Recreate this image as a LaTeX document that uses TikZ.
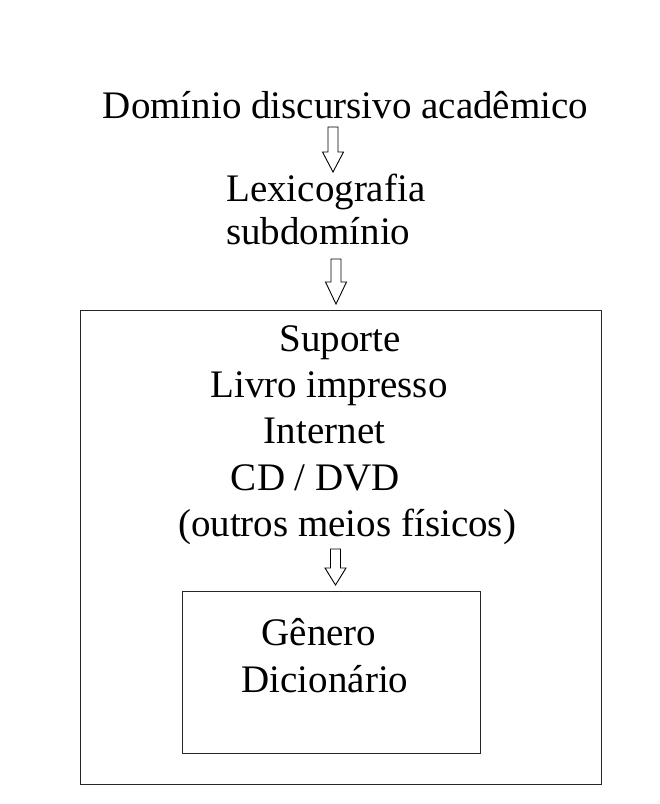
\documentclass[tikz,border=0pt]{standalone}
\usepackage{fontspec}
\setmainfont{Liberation Serif}
\usetikzlibrary{calc}
\newcommand\myblockarrow[3]{%
  \draw[barrow] let \p1=(#1), \p2=(#2) in
    (\x1-5pt,\y1) -- (\x1+5pt,\y1) -- (\x1+5pt,\y2+#3) -- (\x1+10.5pt,\y2+#3)
    -- (\x2,\y2) -- (\x1-10.5pt,\y2+#3) -- (\x1-5pt,\y2+#3) -- cycle;}
\begin{document}
\begin{tikzpicture}[x=1pt,y=-1pt,
  txt/.style={anchor=base, inner sep=0pt, font=\fontsize{39}{46}\selectfont},
  frame/.style={draw=black!85, line width=1.4pt, inner sep=0pt, anchor=north west},
  barrow/.style={draw=black, line width=0.9pt, fill=white, line join=miter}]
\useasboundingbox[fill=white] (0,0) rectangle (660,804);
% boxes
\node[frame, minimum width=521pt, minimum height=474pt] (outer) at (80,310) {};
\node[frame, minimum width=298pt, minimum height=162pt] (inner) at (182,591) {};
% texts
\node[txt] (dom) at (345.5,118) {Domínio discursivo acadêmico};
\node[txt, anchor=base west] (lex) at (226,201) {Lexicografia};
\node[txt, anchor=base west] (sub) at (226,244) {subdomínio};
\node[txt] (sup) at (340,351) {Suporte};
\node[txt] (livro) at (329,397) {Livro impresso};
\node[txt] (inet) at (324.5,443) {Internet};
\node[txt] (cd) at (315.5,490) {CD / DVD};
\node[txt] (outros) at (347,536) {(outros meios físicos)};
\node[txt] (gen) at (319,645) {Gênero};
\node[txt] (dic) at (325,692) {Dicionário};
% arrows
\coordinate (a1t) at (333,127);
\coordinate (a1h) at (333,172);
\coordinate (a2t) at (336,259);
\coordinate (a2h) at (336,304);
\coordinate (a3t) at (335.5,549);
\coordinate (a3h) at (335.5,585);
\myblockarrow{a1t}{a1h}{20pt}
\myblockarrow{a2t}{a2h}{22pt}
\myblockarrow{a3t}{a3h}{17pt}
\end{tikzpicture}
\end{document}
